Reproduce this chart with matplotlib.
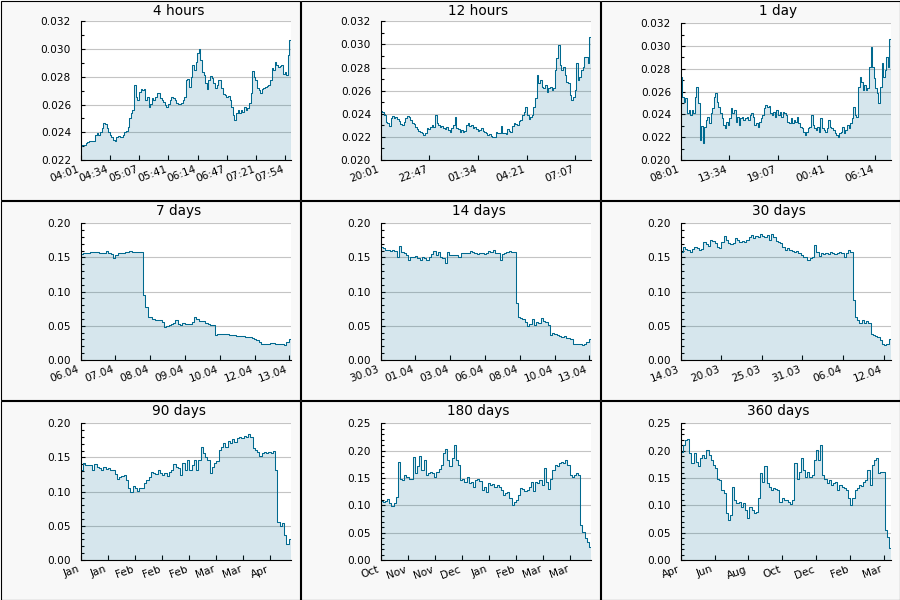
import numpy as np
import matplotlib
matplotlib.use("Agg")
import matplotlib.pyplot as plt
from matplotlib.patches import Rectangle
from matplotlib.ticker import MultipleLocator, FormatStrFormatter
from matplotlib.transforms import ScaledTranslation

# ---------------- data ----------------
titles = ["4 hours", "12 hours", "1 day", "7 days", "14 days", "30 days",
          "90 days", "180 days", "360 days"]
span_hours = [4, 12, 24, 168, 336, 720, 2160, 4320, 8640]
tick_step_s = [2000, 10000, 20000, 100000, 200000, 500000, 1000000, 2000000, 5000000]
tick_labels = [
    ["04:01", "04:34", "05:07", "05:41", "06:14", "06:47", "07:21", "07:54"],
    ["20:01", "22:47", "01:34", "04:21", "07:07"],
    ["08:01", "13:34", "19:07", "00:41", "06:14"],
    ["06.04", "07.04", "08.04", "09.04", "10.04", "12.04", "13.04"],
    ["30.03", "01.04", "03.04", "06.04", "08.04", "10.04", "13.04"],
    ["14.03", "20.03", "25.03", "31.03", "06.04", "12.04"],
    ["Jan", "Jan", "Feb", "Feb", "Feb", "Mar", "Mar", "Apr"],
    ["Oct", "Nov", "Nov", "Dec", "Jan", "Feb", "Mar", "Mar"],
    ["Apr", "Jun", "Aug", "Oct", "Dec", "Feb", "Mar"],
]
y_limits = [(0.022, 0.032), (0.020, 0.032), (0.020, 0.032),
            (0.0, 0.20), (0.0, 0.20), (0.0, 0.20),
            (0.0, 0.20), (0.0, 0.25), (0.0, 0.25)]
y_major = [0.002, 0.002, 0.002, 0.05, 0.05, 0.05, 0.05, 0.05, 0.05]
y_minor = [0.001, 0.001, 0.001, 0.01, 0.01, 0.01, 0.01, 0.01, 0.01]
y_fmt = ["%.3f"] * 3 + ["%.2f"] * 6

price_4h = np.array([
    23.03, 23.08, 23.08, 23.20, 23.32, 23.37, 23.37, 23.37, 23.37, 23.80, 23.92, 23.80,
    24.04, 24.28, 24.69, 24.60, 24.28, 24.04, 23.80, 23.68, 23.44, 23.37, 23.63, 23.73,
    23.68, 23.63, 23.80, 24.04, 24.09, 24.40, 25.00, 25.37, 25.61, 27.41, 26.57, 26.33,
    26.93, 27.10, 27.05, 27.10, 26.33, 26.57, 25.85, 26.04, 26.45, 26.33, 26.57, 26.81,
    26.86, 26.45, 26.33, 26.21, 25.97, 25.85, 26.01, 26.33, 26.57, 26.45, 26.33, 26.09,
    26.04, 26.04, 26.09, 26.33, 26.57, 27.77, 27.82, 27.29, 28.01, 28.85, 28.49, 29.09,
    29.69, 29.98, 29.21, 28.37, 28.13, 27.53, 27.10, 27.77, 28.06, 27.89, 27.53, 27.17,
    27.41, 27.77, 27.77, 27.17, 26.74, 26.69, 26.57, 26.62, 26.33, 25.85, 25.25, 24.88,
    25.37, 25.61, 25.37, 25.61, 25.49, 25.80, 25.61, 25.73, 26.09, 26.81, 28.44, 27.96,
    27.77, 27.17, 27.05, 26.81, 27.10, 27.17, 27.24, 27.34, 27.41, 27.77, 28.61, 28.49,
    29.09, 28.85, 28.73, 28.80, 28.85, 28.20, 28.37, 28.13, 29.57, 30.65]) / 1000

price_12h = np.array([
    24.24, 24.18, 23.89, 23.32, 23.17, 22.94, 23.61, 23.81, 23.61, 23.69, 23.52, 23.40,
    23.12, 23.03, 23.32, 23.61, 23.81, 23.75, 23.46, 23.23, 23.12, 22.83, 22.65, 22.54,
    22.45, 22.31, 22.16, 22.37, 22.74, 22.65, 22.89, 23.03, 22.83, 23.89, 23.17, 23.03,
    22.89, 22.94, 22.74, 22.65, 22.83, 22.60, 22.45, 22.74, 23.03, 23.69, 22.74, 22.65,
    22.45, 22.60, 22.45, 22.51, 23.03, 23.17, 22.94, 23.03, 22.74, 22.83, 22.65, 22.54,
    22.60, 22.74, 22.51, 22.45, 22.31, 22.16, 22.25, 22.08, 21.96, 22.02, 22.45, 22.31,
    22.37, 22.94, 22.31, 22.37, 22.22, 22.65, 22.51, 22.45, 22.94, 23.23, 23.12, 23.03,
    23.40, 23.46, 23.89, 24.18, 24.62, 23.89, 23.52, 23.69, 23.89, 24.62, 25.34, 27.36,
    26.64, 26.92, 26.35, 26.20, 26.49, 25.91, 26.20, 26.29, 26.06, 26.20, 27.79, 28.80,
    29.95, 28.22, 27.79, 28.08, 27.36, 26.78, 26.64, 25.63, 25.19, 25.48, 26.06, 28.37,
    26.92, 27.21, 27.79, 28.08, 28.94, 28.89, 28.37, 30.62]) / 1000

price_1d = np.array([
    27.32, 25.56, 25.12, 25.41, 24.10, 24.39, 23.95, 24.39, 24.10, 25.56, 26.44, 24.98,
    21.76, 22.99, 21.46, 22.93, 23.51, 23.81, 23.22, 24.10, 24.54, 25.56, 25.85, 25.12,
    24.68, 24.10, 23.66, 23.07, 22.78, 23.37, 23.07, 23.66, 24.54, 24.10, 24.39, 23.37,
    23.81, 23.07, 23.66, 23.81, 23.51, 23.66, 23.81, 23.51, 23.95, 24.10, 23.75, 23.07,
    23.22, 22.93, 23.37, 23.66, 23.95, 24.54, 24.83, 24.68, 24.74, 24.10, 23.95, 24.24,
    23.81, 24.39, 23.95, 24.24, 23.81, 24.24, 24.10, 23.95, 23.37, 23.22, 23.66, 23.22,
    23.51, 23.37, 23.81, 23.22, 22.93, 22.78, 22.49, 22.20, 22.49, 22.78, 22.93, 23.95,
    23.07, 22.78, 22.63, 22.93, 22.49, 23.66, 22.78, 22.63, 22.49, 22.78, 23.51, 22.93,
    22.78, 22.63, 22.34, 22.20, 22.05, 22.34, 22.49, 22.93, 22.34, 22.63, 23.07, 22.78,
    23.22, 23.66, 24.68, 23.95, 23.81, 26.44, 27.32, 26.88, 26.15, 26.59, 26.15, 26.29,
    28.20, 29.95, 28.20, 27.17, 26.29, 25.85, 24.98, 26.44, 28.49, 27.32, 27.90, 29.07,
    28.20, 30.60]) / 1000

price_7d = [
    .155, .156, .157, .157, .158, .1585, .158, .1585, .157, .157, .156, .160,
    .157, .155, .149, .154, .156, .157, .157, .158, .1585, .160, .158, .158,
    .158, .158, .158, .095, .078, .063, .063, .060, .0585, .0585, .0585, .055,
    .049, .050, .051, .053, .054, .0585, .053, .051, .0537, .053, .053, .0527,
    .056, .0624, .060, .0576, .0576, .057, .0546, .0527, .0507, .0507, .0366, .0385,
    .038, .038, .0376, .0376, .037, .0366, .036, .0356, .0351, .0346, .0346, .0341,
    .0336, .033, .0317, .031, .029, .0268, .024, .0234, .0234, .0239, .0244, .0244,
    .0239, .0234, .0229, .0229, .022, .0268, .0302]

price_14d = [
    .166, .1634, .161, .161, .160, .161, .160, .151, .167, .1585, .156, .154,
    .147, .151, .151, .152, .149, .146, .150, .149, .147, .151, .155, .160,
    .154, .1585, .150, .149, .142, .1585, .154, .153, .154, .154, .151, .157,
    .156, .156, .157, .160, .1585, .156, .155, .156, .156, .155, .157, .160,
    .1585, .161, .157, .156, .147, .155, .156, .1585, .160, .1576, .1576, .083,
    .063, .061, .0595, .056, .050, .0527, .0595, .051, .056, .0537, .061, .0576,
    .056, .051, .0366, .039, .0376, .0366, .0351, .0341, .0351, .0327, .0317, .0302,
    .0234, .0234, .0234, .0229, .022, .0229, .0268, .0302]

price_30d = [
    .1585, .166, .162, .161, .1585, .162, .165, .1634, .161, .162, .173, .170,
    .167, .1756, .1746, .1717, .165, .1634, .173, .1815, .1756, .1707, .170, .1717,
    .178, .1756, .173, .1746, .173, .1756, .1805, .183, .178, .1815, .1795, .184,
    .1815, .1795, .183, .1756, .1844, .1805, .1746, .173, .1717, .166, .161, .1634,
    .161, .160, .1585, .160, .157, .154, .151, .151, .146, .149, .151, .168,
    .1585, .152, .156, .155, .156, .155, .1585, .156, .155, .157, .1585, .157,
    .150, .157, .161, .1585, .088, .063, .0585, .0546, .0585, .0546, .0576, .0537,
    .038, .0366, .0351, .0332, .0293, .0234, .022, .0234, .0302]

price_90d = [
    .132, .1415, .139, .139, .139, .132, .1405, .1366, .134, .132, .1366, .1327,
    .134, .131, .132, .126, .118, .122, .123, .1245, .117, .105, .100, .108,
    .105, .1015, .105, .106, .112, .117, .121, .129, .1268, .126, .132, .128,
    .1245, .1268, .123, .129, .132, .1405, .1366, .134, .1245, .1415, .132, .1463,
    .132, .139, .1463, .131, .1463, .166, .156, .151, .1463, .1268, .1366, .1415,
    .1454, .161, .166, .1717, .166, .1746, .1717, .1766, .173, .178, .1805, .178,
    .1815, .1795, .1844, .1805, .1634, .161, .1585, .152, .156, .1585, .156, .1585,
    .156, .160, .132, .056, .050, .0537, .0366, .0234, .0302]

price_180d = [
    .1086, .1068, .1086, .111, .1037, .0988, .1037, .116, .180, .149, .146, .1555,
    .1525, .149, .149, .188, .1586, .171, .190, .165, .183, .1555, .1586, .1616,
    .1586, .1525, .1616, .166, .174, .195, .2025, .183, .172, .186, .210, .183,
    .174, .146, .149, .1434, .151, .140, .1434, .134, .146, .1476, .1446, .128,
    .134, .125, .1415, .137, .139, .133, .1366, .133, .128, .119, .122, .125,
    .1128, .1006, .1068, .1098, .119, .131, .1293, .127, .128, .133, .1434, .127,
    .1434, .140, .146, .137, .1678, .1434, .1293, .149, .165, .174, .171, .177,
    .180, .178, .183, .174, .1555, .1525, .1555, .160, .1555, .064, .052, .0397,
    .0336, .0244]

price_360d = [
    .198, .2104, .2196, .221, .195, .177, .195, .180, .171, .186, .192, .186,
    .201, .192, .183, .174, .1678, .149, .146, .128, .122, .0854, .0732, .0824,
    .134, .1098, .1037, .1068, .0976, .1037, .0915, .0763, .0976, .0915, .0866, .0885,
    .1128, .1586, .1434, .171, .140, .134, .128, .131, .1293, .128, .1068, .1128,
    .1098, .1098, .1068, .1025, .1098, .177, .149, .1616, .186, .165, .1525, .1616,
    .151, .1555, .183, .201, .183, .210, .1555, .149, .140, .146, .137, .140,
    .1434, .128, .137, .134, .131, .128, .1128, .1006, .1128, .128, .131, .137,
    .1354, .1434, .146, .165, .137, .174, .183, .186, .1586, .1616, .1616, .0549,
    .0427, .0214]

series = [price_4h, price_12h, price_1d, price_7d, price_14d, price_30d,
          price_90d, price_180d, price_360d]

# ---------------- drawing ----------------
W, H = 900, 600
fig = plt.figure(figsize=(W / 100, H / 100), dpi=100)
fig.patch.set_facecolor("white")

LINE = "#00698f"
GRID = "#c4c4c4"
label_shift = ScaledTranslation(-3 / 72, -1.5 / 72, fig.dpi_scale_trans)

for i in range(9):
    r, c = divmod(i, 3)
    px, py = 300 * c, 200 * r
    fig.patches.append(Rectangle(((px + 0.5) / W, 1 - (py + 199.5) / H), 299 / W, 199 / H,
                                 transform=fig.transFigure, facecolor="#f8f8f8",
                                 edgecolor="black", lw=0.8, zorder=-10))
    top = 21.3 if (r == 0 and c < 2) else 23.3
    ax = fig.add_axes([(px + 80.7) / W, 1 - (py + 160) / H, 210.3 / W, (160 - top) / H])
    ax.set_zorder(1)
    ax.set_facecolor("white")

    span = span_hours[i] * 3600
    y = np.asarray(series[i], dtype=float)
    # each value holds for one equal time slot; repeat last value to close the final slot
    x = np.linspace(0, span, len(y) + 1)
    y = np.append(y, y[-1])
    lo, hi = y_limits[i]
    ax.fill_between(x, y, lo, step="post", color=LINE, alpha=0.16, lw=0, zorder=2)
    ax.plot(x, y, drawstyle="steps-post", color=LINE, lw=0.75, zorder=3)

    ax.set_xlim(0, span)
    ax.set_ylim(lo, hi)
    ticks = [k * tick_step_s[i] for k in range(len(tick_labels[i]))]
    ax.set_xticks(ticks)
    ax.set_xticklabels(tick_labels[i], rotation=20, ha="right")
    for lab in ax.get_xticklabels():
        lab.set_transform(lab.get_transform() + label_shift)
    ax.yaxis.set_major_locator(MultipleLocator(y_major[i]))
    ax.yaxis.set_minor_locator(MultipleLocator(y_minor[i]))
    ax.yaxis.set_major_formatter(FormatStrFormatter(y_fmt[i]))

    ax.grid(axis="y", which="major", color=GRID, lw=0.8, zorder=1)
    ax.set_axisbelow(True)
    for s in ("top", "right"):
        ax.spines[s].set_visible(False)
    for s in ("left", "bottom"):
        ax.spines[s].set_color("black")
        ax.spines[s].set_linewidth(0.8)
        ax.spines[s].set_zorder(4)
    ax.tick_params(axis="y", which="major", direction="in", length=2.8, width=0.8,
                   labelsize=7.6, pad=7, colors="black")
    ax.tick_params(axis="y", which="minor", direction="in", length=2.0, width=0.8)
    ax.tick_params(axis="x", which="major", direction="in", length=3.6, width=0.8,
                   labelsize=7.6, pad=3, colors="black")

    fig.text((px + 178.5) / W, 1 - (py + 15.2) / H, titles[i], ha="center",
             va="baseline", fontsize=9.8, color="black")

fig.savefig("out.png", dpi=100, facecolor="white")
